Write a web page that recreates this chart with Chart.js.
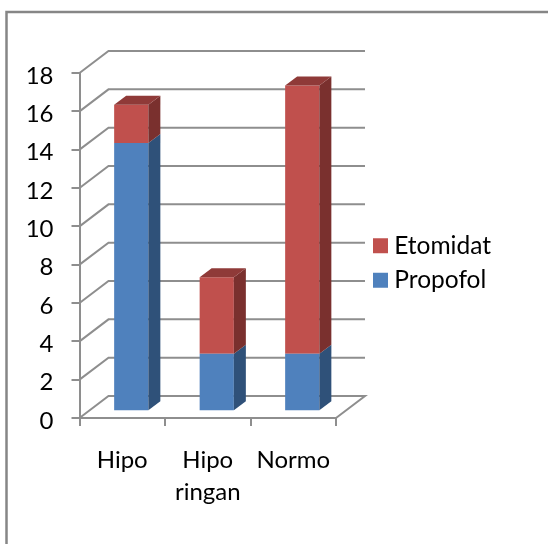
<!DOCTYPE html>
<html>
<head>
<meta charset="utf-8">
<style>
  html, body { margin: 0; padding: 0; background: #fff; }
  canvas { display: block; }
</style>
<script src="https://cdn.jsdelivr.net/npm/chart.js@4/dist/chart.umd.min.js"></script>
</head>
<body>
<canvas id="grafik" width="548" height="544"></canvas>
<script>
const kategori = [["Hipo"], ["Hipo", "ringan"], ["Normo"]];
const propofol = [14, 3, 3];
const etomidat = [2, 4, 14];
const tickY = [0, 2, 4, 6, 8, 10, 12, 14, 16, 18];

const GRID = "#8e8e8e";
const FONT = "Lato";

// kedalaman dinding belakang dan batang (tampilan 3D)
const wallDX = 29, wallDY = 22;
const barDX = 12, barDY = 9;
const shiftX = 9, shiftY = -6.7;

const sisi = ["#2f5179", "#7a302e"];
const atas = "#8f3a38";

function poly(ctx, pts, fill) {
  ctx.beginPath();
  pts.forEach(([x, y], i) => (i ? ctx.lineTo(x, y) : ctx.moveTo(x, y)));
  ctx.closePath();
  ctx.fillStyle = fill;
  ctx.fill();
}

const efek3d = {
  id: "efek3d",
  afterLayout(chart) {
    // sumbu berhenti di 336, legenda dipindah ke kanan dinding
    const x = chart.scales.x;
    x.right = 336;
    x.width = x.right - x.left;
    x.configure();
    const lg = chart.legend;
    lg.left = 369;
    lg.top = 216;
    lg.bottom = 310;
    // angka sumbu y sedikit di bawah garis tick
    const y = chart.scales.y;
    y.drawLabels = (area) => {
      chart.ctx.save();
      chart.ctx.translate(0, 3);
      Object.getPrototypeOf(y).drawLabels.call(y, area);
      chart.ctx.restore();
    };
  },
  beforeDraw(chart) {
    const ctx = chart.ctx;
    ctx.save();
    ctx.strokeStyle = "#868686";
    ctx.lineWidth = 2.5;
    ctx.beginPath();
    ctx.moveTo(6.5, 544);
    ctx.lineTo(6.5, 12);
    ctx.lineTo(548, 12);
    ctx.stroke();
    ctx.restore();
  },
  beforeDatasetsDraw(chart) {
    const ctx = chart.ctx;
    const { x, y } = chart.scales;
    ctx.save();
    ctx.strokeStyle = GRID;
    ctx.lineWidth = 2;
    y.ticks.forEach((t) => {
      const py = y.getPixelForValue(t.value);
      ctx.beginPath();
      ctx.moveTo(x.left, py);
      ctx.lineTo(x.left + wallDX, py - wallDY);
      ctx.lineTo(x.right + wallDX, py - wallDY);
      if (t.value === 0) ctx.lineTo(x.right, py);
      ctx.stroke();
    });
    ctx.restore();
    ctx.save();
    ctx.translate(shiftX, shiftY);
  },
  afterDatasetsDraw(chart) {
    const ctx = chart.ctx;
    chart.data.datasets.forEach((ds, i) => {
      chart.getDatasetMeta(i).data.forEach((el) => {
        const kiri = el.x - el.width / 2, kanan = el.x + el.width / 2;
        poly(ctx, [[kanan, el.y], [kanan + barDX, el.y - barDY], [kanan + barDX, el.base - barDY], [kanan, el.base]], sisi[i]);
        if (i === chart.data.datasets.length - 1) {
          poly(ctx, [[kiri, el.y], [kiri + barDX, el.y - barDY], [kanan + barDX, el.y - barDY], [kanan, el.y]], atas);
        }
      });
    });
    ctx.restore();
  },
};

new Chart(document.getElementById("grafik").getContext("2d"), {
  type: "bar",
  plugins: [efek3d],
  data: {
    labels: kategori,
    datasets: [
      { label: "Propofol", data: propofol, backgroundColor: "#4f81bd", borderWidth: 0, barPercentage: 0.4, categoryPercentage: 1 },
      { label: "Etomidat", data: etomidat, backgroundColor: "#c0504d", borderWidth: 0, barPercentage: 0.4, categoryPercentage: 1 },
    ],
  },
  options: {
    responsive: false,
    animation: false,
    layout: { padding: { top: 73, right: 30 } },
    plugins: {
      tooltip: { enabled: false },
      legend: {
        position: "right",
        reverse: true,
        labels: {
          color: "#000",
          font: { family: FONT, size: 24.5 },
          boxWidth: 3,
          boxHeight: 3,
          padding: 10,
          // kotak kecil + garis tebal: jarak ke teks lebih rapat
          generateLabels: (chart) =>
            Chart.defaults.plugins.legend.labels.generateLabels(chart).map((it) => ({
              ...it,
              lineWidth: 12,
              strokeStyle: it.fillStyle,
            })),
        },
      },
    },
    scales: {
      x: {
        stacked: true,
        afterFit: (s) => { s.height = 126; },
        border: { color: GRID, width: 2 },
        grid: { color: GRID, lineWidth: 2, drawOnChartArea: false, tickLength: 8 },
        ticks: { color: "#000", font: { family: FONT, size: 24, lineHeight: 1.33 }, padding: 18, autoSkip: false, maxRotation: 0 },
      },
      y: {
        stacked: true,
        min: 0,
        max: 18,
        afterBuildTicks: (s) => { s.ticks = tickY.map((value) => ({ value })); },
        afterFit: (s) => { s.width = 79.5; },
        border: { color: GRID, width: 2 },
        grid: { color: GRID, lineWidth: 2, drawOnChartArea: false, tickLength: 8 },
        ticks: { color: "#000", font: { family: FONT, size: 24 }, padding: 18 },
      },
    },
  },
});
</script>
</body>
</html>
